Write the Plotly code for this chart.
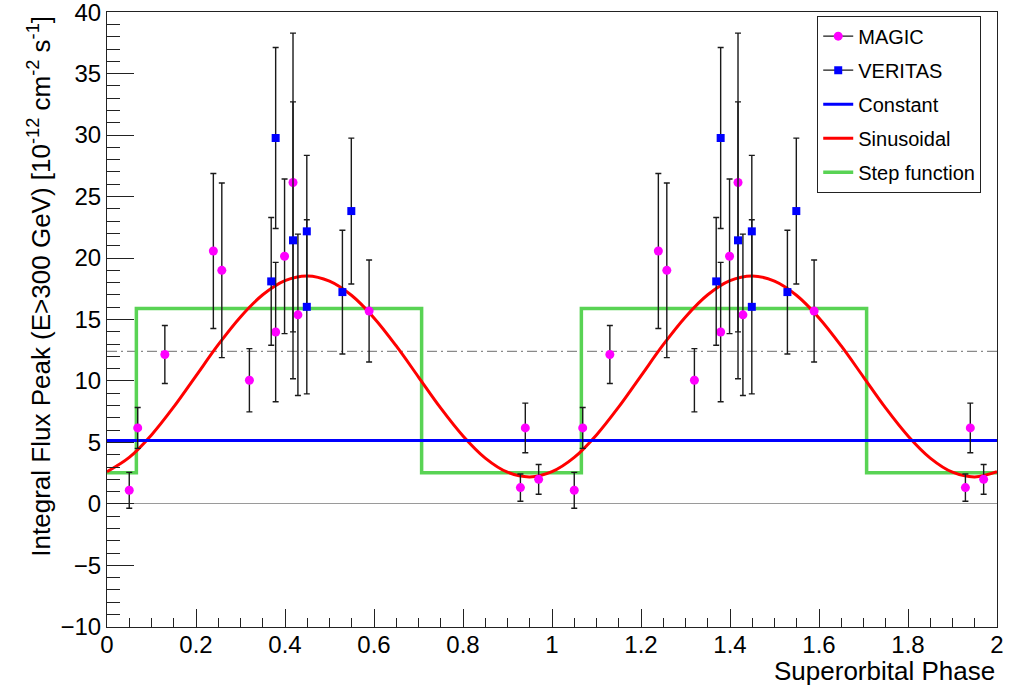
import plotly.graph_objects as go

# ---------------- data ----------------
MAGIC_PHASE = [0.050, 0.069, 0.130, 0.239, 0.258, 0.320, 0.379, 0.399, 0.418, 0.429, 0.589, 0.929, 0.940, 0.970]
MAGIC_FLUX = [1.11, 6.18, 12.15, 20.57, 19.00, 10.06, 13.98, 20.14, 26.14, 15.38, 15.69, 1.33, 6.18, 2.00]
MAGIC_ERR = [1.46, 1.66, 2.36, 6.30, 7.10, 2.57, 5.67, 6.29, 12.15, 6.56, 4.15, 1.11, 2.02, 1.21]

VERITAS_PHASE = [0.369, 0.379, 0.418, 0.449, 0.449, 0.529, 0.549]
VERITAS_FLUX = [18.10, 29.76, 21.44, 22.17, 16.03, 17.23, 23.82]
VERITAS_ERR = [5.20, 7.36, 11.26, 6.18, 7.08, 5.03, 5.93]

CONSTANT_LEVEL = 5.16
MEAN_LEVEL = 12.40          # grey dash-dotted line

SIN_PHASE = [0.00, 0.05, 0.10, 0.15, 0.20, 0.25, 0.30, 0.35, 0.40, 0.45, 0.50,
             0.55, 0.60, 0.65, 0.70, 0.75, 0.80, 0.85, 0.90, 0.95, 1.00]
SIN_FLUX = [2.62, 3.78, 5.61, 7.89, 10.42, 12.95, 15.21, 17.01, 18.16, 18.54, 18.12,
            16.95, 15.13, 12.85, 10.32, 7.79, 5.53, 3.73, 2.58, 2.20, 2.62]

STEP_EDGES = [0.066, 0.707]
STEP_HIGH = 15.89
STEP_LOW = 2.54

N_CYCLES = 2
X_TICKS = [0, 0.2, 0.4, 0.6, 0.8, 1, 1.2, 1.4, 1.6, 1.8, 2]
X_TICK_LABELS = ["0", "0.2", "0.4", "0.6", "0.8", "1", "1.2", "1.4", "1.6", "1.8", "2"]
Y_TICKS = [-10, -5, 0, 5, 10, 15, 20, 25, 30, 35, 40]
Y_TICK_LABELS = ["\u221210", "\u22125", "0", "5", "10", "15", "20", "25", "30", "35", "40"]

# ---------------- build repeated cycles ----------------
def repeat(phase, *vals):
    xs = [p + c for c in range(N_CYCLES) for p in phase]
    outs = [[v for c in range(N_CYCLES) for v in arr] for arr in vals]
    return xs, outs

mx, (my, me) = repeat(MAGIC_PHASE, MAGIC_FLUX, MAGIC_ERR)
vx, (vy, ve) = repeat(VERITAS_PHASE, VERITAS_FLUX, VERITAS_ERR)

sx, sy = [], []
for c in range(N_CYCLES):
    for i, (p, f) in enumerate(zip(SIN_PHASE, SIN_FLUX)):
        if c > 0 and i == 0:
            continue
        sx.append(p + c)
        sy.append(f)

stx, sty = [0.0], [STEP_LOW]
for c in range(N_CYCLES):
    up, down = STEP_EDGES[0] + c, STEP_EDGES[1] + c
    stx += [up, up, down, down]
    sty += [STEP_LOW, STEP_HIGH, STEP_HIGH, STEP_LOW]
stx.append(float(N_CYCLES))
sty.append(STEP_LOW)

FONT = "Liberation Sans, Arial, sans-serif"
MAGENTA = "#ff00ff"
BLUE = "#0000ff"
RED = "#ff0000"
GREEN = "#59d354"

fig = go.Figure()

# grey dash-dotted reference line
fig.add_trace(go.Scatter(x=[0, N_CYCLES], y=[MEAN_LEVEL, MEAN_LEVEL], mode="lines",
                         line=dict(color="#8a8a8a", width=1.2, dash="10px,4px,2px,4px"),
                         showlegend=False, hoverinfo="skip"))
# step function
fig.add_trace(go.Scatter(x=stx, y=sty, mode="lines", line=dict(color=GREEN, width=3.5),
                         name="Step function", legendrank=5, legendgroup="g5"))
# sinusoid
fig.add_trace(go.Scatter(x=sx, y=sy, mode="lines", line=dict(color=RED, width=3, shape="spline"),
                         name="Sinusoidal", legendrank=4, legendgroup="g4"))
# constant
fig.add_trace(go.Scatter(x=[0, N_CYCLES], y=[CONSTANT_LEVEL, CONSTANT_LEVEL], mode="lines",
                         line=dict(color=BLUE, width=3), name="Constant", legendrank=3,
                         legendgroup="g3"))

# data
err_style = dict(type="data", visible=True, color="#1a1a1a", thickness=1.4, width=3)
fig.add_trace(go.Scatter(x=mx, y=my, mode="markers",
                         marker=dict(symbol="circle", size=9, color=MAGENTA),
                         error_y=dict(array=me, **err_style), showlegend=False))
fig.add_trace(go.Scatter(x=vx, y=vy, mode="markers",
                         marker=dict(symbol="square", size=8, color=BLUE),
                         error_y=dict(array=ve, **err_style), showlegend=False))

# legend-only entries for data (line + marker like ROOT)
fig.add_trace(go.Scatter(x=[None], y=[None], mode="lines+markers", name="MAGIC",
                         line=dict(color="#1a1a1a", width=1.2),
                         marker=dict(symbol="circle", size=9, color=MAGENTA), legendrank=1,
                         legendgroup="g1"))
fig.add_trace(go.Scatter(x=[None], y=[None], mode="lines+markers", name="VERITAS",
                         line=dict(color="#1a1a1a", width=1.2),
                         marker=dict(symbol="square", size=8, color=BLUE), legendrank=2,
                         legendgroup="g2"))

axis_common = dict(showline=True, linecolor="#222222", linewidth=1, mirror=True,
                   ticks="inside", tickcolor="#222222", tickwidth=1, showgrid=False,
                   automargin=False, ticklabeloverflow="allow",
                   tickfont=dict(family=FONT, size=24, color="#000"))

fig.update_xaxes(range=[0, N_CYCLES], tickmode="array", tickvals=X_TICKS, ticktext=X_TICK_LABELS,
                 ticklen=18, ticklabelstandoff=-4,
                 minor=dict(dtick=0.05, ticks="inside", ticklen=9, tickcolor="#222222", tickwidth=1),
                 zeroline=False, **axis_common)
fig.update_yaxes(range=[-10.01, 40.01], tickmode="array", tickvals=Y_TICKS, ticktext=Y_TICK_LABELS,
                 ticklen=27,
                 minor=dict(dtick=1, ticks="inside", ticklen=13, tickcolor="#222222", tickwidth=1),
                 zeroline=True, zerolinecolor="#9a9a9a", zerolinewidth=1, **axis_common)

fig.add_annotation(text="Integral Flux Peak (E>300 GeV) [10<sup>-12</sup> cm<sup>-2</sup> s<sup>-1</sup>]",
                   xref="paper", yref="paper", x=-0.076, y=0.554, xanchor="center", yanchor="middle",
                   textangle=-90, showarrow=False, font=dict(family=FONT, size=26, color="#000"))
fig.add_annotation(text="Superorbital Phase", xref="paper", yref="paper", x=1.0, y=-0.071,
                   xanchor="right", yanchor="middle", showarrow=False,
                   font=dict(family=FONT, size=26, color="#000"))

fig.update_layout(
    width=1012, height=685,
    margin=dict(l=107, r=15, t=12, b=58, autoexpand=False),
    paper_bgcolor="white", plot_bgcolor="white",
    font=dict(family=FONT, color="#000"),
    legend=dict(x=0.798, y=0.994, xanchor="left", yanchor="top",
                bgcolor="white", bordercolor="#222222", borderwidth=1,
                font=dict(family=FONT, size=20, color="#000"),
                itemwidth=30, tracegroupgap=5),
)

# remove the default 8px page margin so the figure fills the window exactly
fig.write_html("out.html", config={"displayModeBar": False},
               post_script="document.body.style.margin='0px';")
